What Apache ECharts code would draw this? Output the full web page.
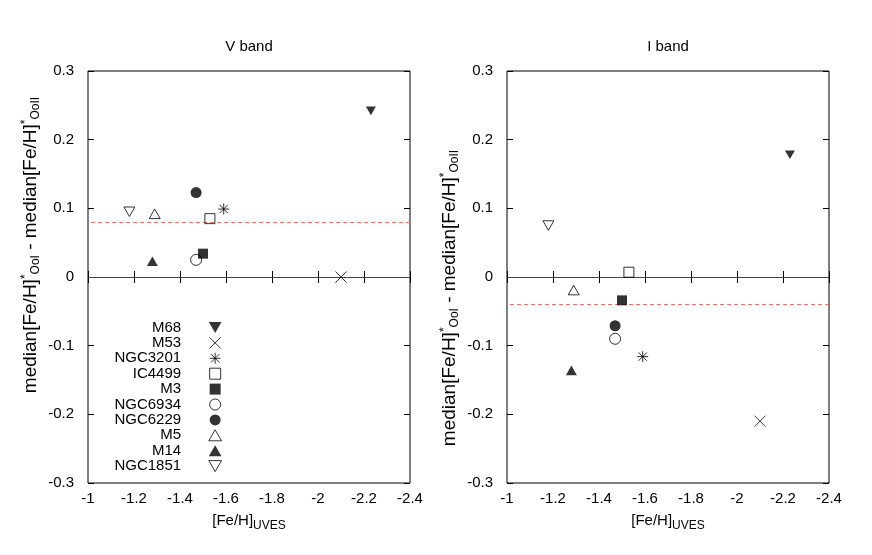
<!DOCTYPE html>
<html>
<head>
<meta charset="utf-8">
<script src="https://cdn.jsdelivr.net/npm/echarts@6/dist/echarts.min.js"></script>
<style>html,body{margin:0;padding:0;background:#fff}#c{width:872px;height:555px}</style>
</head>
<body>
<div id="c"></div>
<script>
// ---- data ----
const clusters = ['M68', 'M53', 'NGC3201', 'IC4499', 'M3', 'NGC6934', 'NGC6229', 'M5', 'M14', 'NGC1851'];
const fehUVES  = [-2.23, -2.10, -1.59, -1.53, -1.50, -1.47, -1.47, -1.29, -1.28, -1.18];
const vBand    = [0.242, 0.000, 0.099, 0.085, 0.034, 0.025, 0.123, 0.092, 0.023, 0.095];
const iBand    = [0.178, -0.210, -0.116, 0.007, -0.034, -0.090, -0.071, -0.019, -0.136, 0.075];
const vMedianLine = 0.082;
const iMedianLine = -0.041;
const zeroLine = 0;
const xTicks = { min: -2.4, max: -1, step: 0.2 };
const yTicks = { min: -0.3, max: 0.3, step: 0.1 };
const panelTitles = ['V band', 'I band'];

// ---- styles ----
const FONT = "'Liberation Sans', Arial, Helvetica, sans-serif";
const crossPath = 'path://M0,0 L10,10 M0,10 L10,0';
const starPath = 'path://M0,5 L10,5 M5,0 L5,10 M1.2,1.2 L8.8,8.8 M1.2,8.8 L8.8,1.2';
const upTri = 'path://M5,0 L10,8.66 L0,8.66 Z';
const downTri = 'path://M0,0 L10,0 L5,8.66 Z';
const rectPath = 'path://M0,0 L10,0 L10,10 L0,10 Z';
const markerStyles = {
  'M68':     { symbol: downTri, filled: true, size: 10 },
  'M53':     { symbol: crossPath, filled: false, size: 11 },
  'NGC3201': { symbol: starPath, filled: false, size: 11 },
  'IC4499':  { symbol: rectPath, filled: false, size: 10 },
  'M3':      { symbol: rectPath, filled: true, size: 10 },
  'NGC6934': { symbol: 'circle', filled: false, size: 11 },
  'NGC6229': { symbol: 'circle', filled: true, size: 11 },
  'M5':      { symbol: upTri, filled: false, size: 11 },
  'M14':     { symbol: upTri, filled: true, size: 11 },
  'NGC1851': { symbol: downTri, filled: false, size: 11 }
};

const grids = [
  { left: 88, top: 71, width: 322, height: 412 },
  { left: 507, top: 71, width: 322, height: 412 }
];
// shift of y-axis label along the axis (px, positive = up)
const yNameShift = [32, -21];

function richName(base, sub) {
  return {
    base: { fontSize: base, fontFamily: FONT, color: '#000' },
    sub: { fontSize: sub, fontFamily: FONT, color: '#000', padding: [10, 0, 0, 0] },
    sup: { fontSize: sub, fontFamily: FONT, color: '#000', padding: [0, 0, 10, 0] }
  };
}

const xAxes = [], yAxes = [], series = [], titles = [];
[0, 1].forEach(p => {
  const common = {
    gridIndex: p, type: 'value', min: xTicks.min, max: xTicks.max, interval: xTicks.step,
    inverse: true, splitLine: { show: false },
    axisLine: { show: false },
    axisTick: { show: true, inside: true, length: 6, lineStyle: { color: '#000' } }
  };
  xAxes.push(Object.assign({}, common, {
    position: 'bottom',
    axisLabel: { color: '#000', fontSize: 15, fontFamily: FONT, margin: 8 },
    name: '{base|[Fe/H]}{sub|UVES}', nameLocation: 'middle', nameGap: 27,
    nameTextStyle: { rich: richName(15, 12) }
  }));
  xAxes.push(Object.assign({}, common, { position: 'top', axisLabel: { show: false } }));
  const ycommon = {
    gridIndex: p, type: 'value', min: yTicks.min, max: yTicks.max, interval: yTicks.step,
    splitLine: { show: false }, axisLine: { show: false },
    axisTick: { show: true, inside: true, length: 6, lineStyle: { color: '#000' } }
  };
  const sh = yNameShift[p];
  yAxes.push(Object.assign({}, ycommon, {
    position: 'left',
    axisLabel: { color: '#000', fontSize: 15, fontFamily: FONT, margin: 14 },
    name: '{base|median[Fe/H]}{sup|*}{sub|OoI}{base| - median[Fe/H]}{sup|*}{sub|OoII}',
    nameLocation: 'middle', nameGap: 46, nameRotate: 90,
    nameTextStyle: {
      rich: richName(19, 12),
      padding: sh > 0 ? [0, 0, 0, 2 * sh] : [0, -2 * sh, 0, 0]
    }
  }));
  yAxes.push(Object.assign({}, ycommon, { position: 'right', axisLabel: { show: false } }));

  const vals = p === 0 ? vBand : iBand;
  clusters.forEach((name, i) => {
    const m = markerStyles[name];
    series.push({
      type: 'scatter', name: name,
      xAxisIndex: p * 2, yAxisIndex: p * 2,
      symbol: m.symbol, symbolSize: m.size, symbolKeepAspect: true,
      itemStyle: m.filled ? { color: '#000', borderWidth: 0 }
                          : { color: 'rgba(255,255,255,0)', borderColor: '#000', borderWidth: 1 },
      data: [[fehUVES[i], vals[i]]],
      z: 5
    });
  });
  series.push({
    type: 'line', name: 'ref' + p, xAxisIndex: p * 2, yAxisIndex: p * 2,
    data: [], silent: true,
    markLine: {
      symbol: 'none', silent: true, label: { show: false },
      data: [
        { yAxis: zeroLine, lineStyle: { color: '#444', width: 1, type: 'solid' } },
        { yAxis: p === 0 ? vMedianLine : iMedianLine, lineStyle: { color: '#f07070', width: 1, type: [4, 3] } }
      ]
    }
  });
  titles.push({
    text: panelTitles[p], left: grids[p].left + grids[p].width / 2, top: 39, textAlign: 'center',
    padding: 0,
    textStyle: { fontSize: 15, fontWeight: 'normal', color: '#000', fontFamily: FONT }
  });
});

const chart = echarts.init(document.getElementById('c'), null, { renderer: 'canvas' });
chart.setOption({
  animation: false,
  backgroundColor: '#fff',
  title: titles,
  grid: grids.map(g => Object.assign({ show: true, borderColor: '#000', borderWidth: 1, backgroundColor: 'transparent' }, g)),
  xAxis: xAxes,
  yAxis: yAxes,
  legend: {
    data: clusters, orient: 'vertical', align: 'right',
    right: 872 - 222, top: 320, padding: 0,
    itemWidth: 58, itemHeight: 11, itemGap: 0.4,
    symbolKeepAspect: true,
    itemStyle: { borderWidth: 1 },
    textStyle: { fontSize: 15, fontFamily: FONT, color: '#000', lineHeight: 15 },
    selectedMode: false
  },
  series: series
});
</script>
</body>
</html>
